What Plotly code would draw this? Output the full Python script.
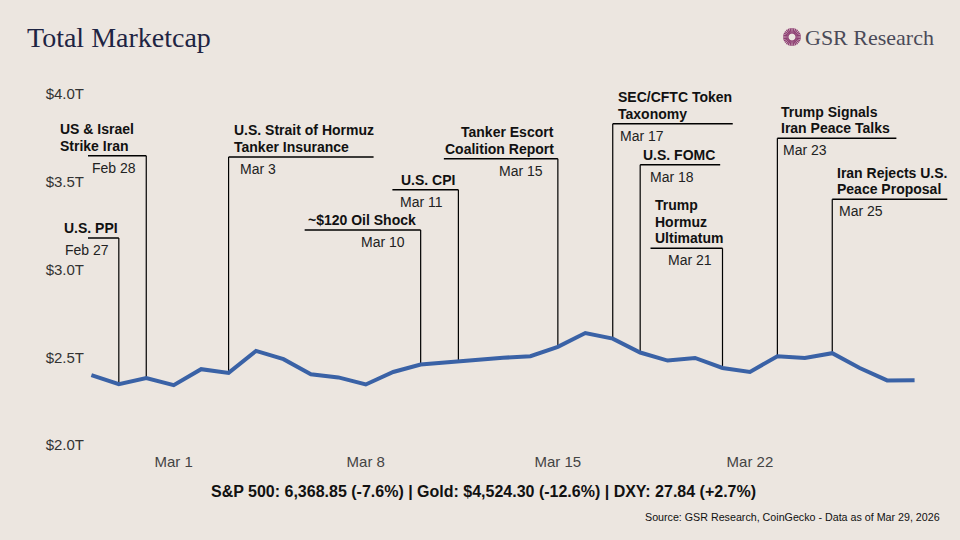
import numpy as np
import pandas as pd
import plotly.graph_objects as go


#daily total crypto marketcap, trillions usd
dates = pd.date_range("2026-02-26", "2026-03-28", freq="D")
marketcap_t = [2.398, 2.347, 2.382, 2.341, 2.432, 2.411, 2.536, 2.489, 2.403, 2.385,
               2.345, 2.416, 2.459, 2.472, 2.486, 2.497, 2.506, 2.559, 2.638, 2.606,
               2.527, 2.481, 2.496, 2.439, 2.416, 2.506, 2.496, 2.523, 2.439, 2.368, 2.369]

#events marked on the chart
event_dates = ["2026-02-27", "2026-02-28", "2026-03-03", "2026-03-10", "2026-03-11 09:00",
               "2026-03-15", "2026-03-17", "2026-03-18", "2026-03-21", "2026-03-23", "2026-03-25"]
event_labels = ["U.S. PPI", "US & Israel<br>Strike Iran", "U.S. Strait of Hormuz<br>Tanker Insurance",
                "~$120 Oil Shock", "U.S. CPI", "Tanker Escort<br>Coalition Report",
                "SEC/CFTC Token<br>Taxonomy", "U.S. FOMC", "Trump<br>Hormuz<br>Ultimatum",
                "Trump Signals<br>Iran Peace Talks", "Iran Rejects U.S.<br>Peace Proposal"]

y_ticks = [2.0, 2.5, 3.0, 3.5, 4.0]
y_tick_text = ["$2.0T", "$2.5T", "$3.0T", "$3.5T", "$4.0T"]

title_text = "Total Marketcap"
brand_text = "GSR Research"
footer_text = "S&P 500: 6,368.85 (-7.6%) | Gold: $4,524.30 (-12.6%) | DXY: 27.84 (+2.7%)"
source_text = "Source: GSR Research, CoinGecko - Data as of Mar 29, 2026"

#callout placement: level, arm px, label shift px, label anchor, date shift px, date anchor
callouts = [
    (3.180, -59, -57, "left", -8, "right"),
    (3.648, -90, -88, "left", -8, "right"),
    (3.641, 145, 3, "left", 9, "left"),
    (3.225, -116, -115, "left", -14, "right"),
    (3.455, -66, -59, "left", -13, "right"),
    (3.631, -114, -2, "right", -13, "right"),
    (3.831, 120, 3, "left", 5, "left"),
    (3.597, 80, 1, "left", 8, "left"),
    (3.121, -72, -70, "left", -9, "right"),
    (3.748, 119, 2, "left", 4, "left"),
    (3.400, 115, 3, "left", 5, "left"),
]

##page geometry (px)
W, H = 960, 540
L, R, T, B = 88, 950, 94, 445
px_per_day = 27.44
line_gap = 16.7
bg = "#ECE6E0"
line_blue = "#3A62A6"
font = "Liberation Sans, Arial, sans-serif"
serif = "Liberation Serif, Times New Roman, serif"


def px_x(px):
    return (px - L) / (R - L)


def px_y(py):
    return (B - py) / (B - T)


x_start = pd.Timestamp("2026-03-01") - pd.Timedelta(days=(173.7 - L) / px_per_day)
x_end = x_start + pd.Timedelta(days=(R - L) / px_per_day)

fig = go.Figure()
fig.add_trace(go.Scatter(
    x=dates,
    y=marketcap_t,
    mode="lines",
    line=dict(color=line_blue, width=4),
    hoverinfo="skip",
))

#callouts
day_pos = (dates - dates[0]) / pd.Timedelta(days=1)
shapes = []
annotations = []
for d, label, (level, arm, lab_dx, lab_anchor, date_dx, date_anchor) in zip(event_dates, event_labels, callouts):
    ts = pd.Timestamp(d)
    base = float(np.interp((ts - dates[0]) / pd.Timedelta(days=1), day_pos, marketcap_t))
    shapes.append(dict(type="line", xref="x", yref="y", x0=ts, x1=ts, y0=base, y1=level,
                       line=dict(color="black", width=1.2), layer="below"))
    shapes.append(dict(type="line", xref="x", yref="y", xsizemode="pixel", xanchor=ts,
                       x0=0, x1=arm, y0=level, y1=level,
                       line=dict(color="black", width=1.5), layer="below"))
    #one annotation per line, tighter leading than plotly's default
    for k, part in enumerate(reversed(label.split("<br>"))):
        annotations.append(dict(x=ts, y=level, xref="x", yref="y", text=f"<b>{part}</b>",
                                showarrow=False, xanchor=lab_anchor, yanchor="bottom",
                                xshift=lab_dx, yshift=k * line_gap,
                                font=dict(family=font, size=14, color="#111")))
    annotations.append(dict(x=ts, y=level, xref="x", yref="y", text=f"{ts:%b} {ts.day}",
                            showarrow=False, xanchor=date_anchor, yanchor="top",
                            xshift=date_dx, yshift=-2,
                            font=dict(family=font, size=14, color="#222")))

#title, brand, footer
annotations.append(dict(x=px_x(25), y=px_y(38), xref="paper", yref="paper", text=title_text,
                        showarrow=False, xanchor="left", yanchor="middle",
                        font=dict(family=serif, size=28, color="#1E2443")))
annotations.append(dict(x=px_x(803), y=px_y(38), xref="paper", yref="paper", text=brand_text,
                        showarrow=False, xanchor="left", yanchor="middle",
                        font=dict(family=serif, size=22, color="#4A4A58")))
annotations.append(dict(x=px_x(483), y=px_y(491), xref="paper", yref="paper",
                        text=f"<b>{footer_text}</b>", showarrow=False,
                        xanchor="center", yanchor="middle",
                        font=dict(family=font, size=16, color="#111")))
annotations.append(dict(x=px_x(942), y=px_y(517), xref="paper", yref="paper",
                        text=source_text, showarrow=False,
                        xanchor="right", yanchor="middle",
                        font=dict(family=font, size=10.7, color="#111")))

#logo starburst
cx, cy = 792, 37
for a in np.linspace(0, 2 * np.pi, 28, endpoint=False):
    shapes.append(dict(type="line", xref="paper", yref="paper",
                       x0=px_x(cx + 3.5 * np.cos(a)), y0=px_y(cy + 3.5 * np.sin(a)),
                       x1=px_x(cx + 9 * np.cos(a)), y1=px_y(cy + 9 * np.sin(a)),
                       line=dict(color="#8E3F73", width=1.3)))

fig.update_layout(
    width=W,
    height=H,
    margin=dict(l=L, r=W - R, t=T, b=H - B),
    paper_bgcolor=bg,
    plot_bgcolor="rgba(0,0,0,0)",
    showlegend=False,
    shapes=shapes,
    annotations=annotations,
    xaxis=dict(
        range=[x_start, x_end],
        type="date",
        tick0="2026-03-01",
        dtick=7 * 86400000,
        tickformat="%b %-d",
        showgrid=False,
        zeroline=False,
        showline=False,
        ticks="",
        ticklabelstandoff=6,
        tickfont=dict(family=font, size=15, color="#444"),
    ),
    yaxis=dict(
        range=[2.0, 4.0],
        tickmode="array",
        tickvals=y_ticks,
        ticktext=y_tick_text,
        showgrid=False,
        zeroline=False,
        showline=False,
        ticks="",
        ticklabelstandoff=3,
        tickfont=dict(family=font, size=15, color="#333"),
    ),
)

#drop the default page margin so the figure sits at 0,0
fig.write_html("out.html", config=dict(displayModeBar=False),
               post_script="document.body.style.margin='0';document.body.style.background='%s';" % bg)
